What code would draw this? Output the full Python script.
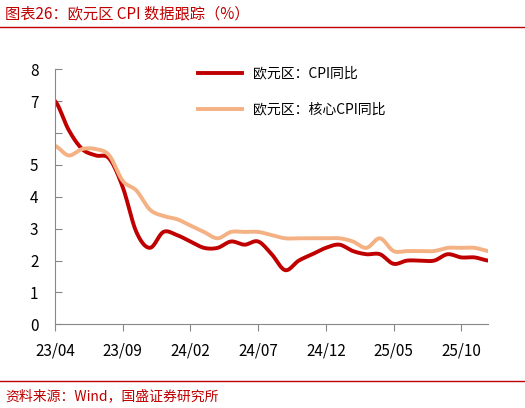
import numpy as np, pandas as pd, matplotlib
matplotlib.use("Agg")
import matplotlib.pyplot as plt, seaborn as sns

months = pd.period_range("2023-04", "2025-12", freq="M")
cpi = [7.0,6.1,5.5,5.3,5.2,4.3,2.9,2.4,2.9,2.8,2.6,2.4,2.4,2.6,2.5,2.6,2.2,1.7,2.0,2.2,2.4,2.5,2.3,2.2,2.2,1.9,2.0,2.0,2.0,2.2,2.1,2.1,2.0]
core = [5.6,5.3,5.5,5.5,5.3,4.5,4.2,3.6,3.4,3.3,3.1,2.9,2.7,2.9,2.9,2.9,2.8,2.7,2.7,2.7,2.7,2.7,2.6,2.4,2.7,2.3,2.3,2.3,2.3,2.4,2.4,2.4,2.3]
tick_labels = ["23/04","23/09","24/02","24/07","24/12","25/05","25/10"]

def smooth(y, n=10):
    y = np.asarray(y, float); p = np.concatenate([[y[0]], y, [y[-1]]])
    xs, ys = [], []
    for i in range(len(y)-1):
        p0,p1,p2,p3 = p[i],p[i+1],p[i+2],p[i+3]
        for t in np.linspace(0,1,n,endpoint=False):
            ys.append(0.5*((2*p1)+(-p0+p2)*t+(2*p0-5*p1+4*p2-p3)*t*t+(-p0+3*p1-3*p2+p3)*t**3))
            xs.append(i+t)
    xs.append(len(y)-1); ys.append(y[-1])
    return np.array(xs), np.array(ys)

plt.rcParams['font.family'] = ['Noto Sans CJK SC', 'DejaVu Sans']
fig = plt.figure(figsize=(5.25,4.08), dpi=100)
ax = fig.add_axes([0.105, 0.205, 0.825, 0.625])
for y, lab, col in [(cpi, "欧元区：CPI同比", "#c00000"), (core, "欧元区：核心CPI同比", "#f4b183")]:
    xs, ys = smooth(y)
    sns.lineplot(x=xs, y=ys, ax=ax, color=col, lw=2.8, label=lab)
ax.set_xlim(0, len(months)-1); ax.set_ylim(0, 8)
ax.set_yticks(range(9)); ax.set_yticklabels([str(i) if i != 6 else "" for i in range(9)], fontsize=11)
ax.set_xticks(range(0, len(months), 5)); ax.set_xticklabels(tick_labels, fontsize=11)
ax.tick_params(axis='x', length=5, color="#888888", pad=8, direction='out')
ax.tick_params(axis='y', length=5, color="#888888", direction='in', pad=12)
for s in ["top","right"]: ax.spines[s].set_visible(False)
for s in ["left","bottom"]: ax.spines[s].set_color("#888888")
ax.legend(loc="upper left", bbox_to_anchor=(0.3, 1.06), frameon=False, fontsize=10, labelspacing=1.6, handlelength=3.2)
fig.text(0.01, 0.955, "图表26：欧元区 CPI 数据跟踪（%）", fontsize=11, color="#c00000", style="italic")
fig.add_artist(plt.Line2D([0.0, 1.0], [0.935, 0.935], color="#c00000", lw=1))
fig.add_artist(plt.Line2D([0.0, 1.0], [0.065, 0.065], color="#c00000", lw=1))
fig.text(0.01, 0.02, "资料来源：Wind，国盛证券研究所", fontsize=10, color="#c00000", style="italic")
fig.savefig("out.png", dpi=100)
